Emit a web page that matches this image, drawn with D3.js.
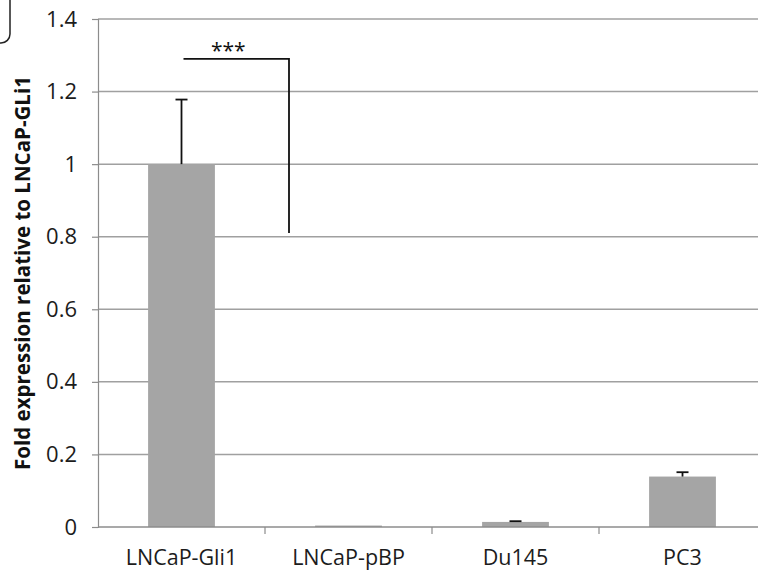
<!DOCTYPE html>
<html><head><meta charset="utf-8">
<script src="https://cdn.jsdelivr.net/npm/d3@7"></script>
<style>body{margin:0;background:#fff}svg{display:block}</style>
</head><body>
<svg id="c" width="758" height="571"></svg>
<script>
const categories = ["LNCaP-Gli1","LNCaP-pBP","Du145","PC3"];
const values = [1.0, 0.004, 0.014, 0.139];
const errors = [0.178, 0, 0.002, 0.012];
const yTicks = [0,0.2,0.4,0.6,0.8,1,1.2,1.4];
const sigLabel = "***";
const bracket = {top:1.29, bottom:0.81};
const yTitle = "Fold expression relative to LNCaP-GLi1";

const svg = d3.select("#c");
const x0 = 98, x1 = 766, yTop = 19, yBot = 527;
const x = d3.scaleBand().domain(categories).range([x0,x1]).paddingInner(0.6).paddingOuter(0.3);
const xb = d3.scaleBand().domain(categories).range([x0,x1]);
const y = d3.scaleLinear().domain([0,1.4]).range([yBot,yTop]);
const font = "'Open Sans', 'Liberation Sans', sans-serif";
const textCol = "#1c1c1c";

// gridlines
svg.append("g").selectAll("line").data(yTicks.filter(d=>d>0)).join("line")
  .attr("x1",x0).attr("x2",758).attr("y1",d=>y(d)).attr("y2",d=>y(d))
  .attr("stroke","#a0a0a0").attr("stroke-width",1.5);

// y axis
const ya = svg.append("g").attr("transform",`translate(${x0},0)`)
  .call(d3.axisLeft(y).tickValues(yTicks).tickSize(6).tickPadding(15).tickFormat(d=>String(d)));
ya.select(".domain").attr("stroke","#8c8c8c").attr("stroke-width",1.2);
ya.selectAll(".tick line").attr("stroke","#8c8c8c").attr("stroke-width",1.2);
ya.selectAll("text").attr("font-family",font).attr("font-size",22).attr("fill",textCol);

// bars
svg.append("g").selectAll("rect").data(categories).join("rect")
  .attr("x",d=>x(d)).attr("width",x.bandwidth())
  .attr("y",(d,i)=>y(values[i])).attr("height",(d,i)=>yBot-y(values[i]))
  .attr("fill","#a5a5a5");

// x axis
const xa = svg.append("g").attr("transform",`translate(0,${yBot})`);
xa.append("line").attr("x1",x0).attr("x2",758).attr("y1",0).attr("y2",0)
  .attr("stroke","#8c8c8c").attr("stroke-width",1.5);
xa.selectAll("line.t").data(categories.slice(1)).join("line").attr("class","t")
  .attr("x1",d=>xb(d)).attr("x2",d=>xb(d)).attr("y1",0).attr("y2",7)
  .attr("stroke","#8c8c8c").attr("stroke-width",1.2);
xa.selectAll("text").data(categories).join("text")
  .attr("x",d=>xb(d)+xb.bandwidth()/2).attr("y",38)
  .attr("text-anchor","middle").attr("font-family",font).attr("font-size",21.5).attr("fill",textCol)
  .text(d=>d);

// error bars
const eb = svg.append("g").attr("stroke","#111").attr("stroke-width",1.8);
categories.forEach((c,i)=>{
  if(errors[i]<=0) return;
  const cx = x(c)+x.bandwidth()/2;
  eb.append("line").attr("x1",cx).attr("x2",cx).attr("y1",y(values[i])).attr("y2",y(values[i]+errors[i]));
  eb.append("line").attr("x1",cx-6).attr("x2",cx+6).attr("y1",y(values[i]+errors[i])).attr("y2",y(values[i]+errors[i]));
});

// significance bracket
const bxL = x(categories[0])+x.bandwidth()/2+2;
const bxR = 289;
svg.append("path")
  .attr("d",`M${bxL},${y(bracket.top)}H${bxR}V${y(bracket.bottom)}`)
  .attr("fill","none").attr("stroke","#111").attr("stroke-width",1.8);
svg.append("text").attr("x",(bxL+bxR)/2-8).attr("y",y(bracket.top)-1)
  .attr("text-anchor","middle").attr("font-family",font).attr("font-size",21).attr("fill","#111")
  .text(sigLabel);

// y title
svg.append("text").attr("transform",`translate(30,273) rotate(-90)`)
  .attr("text-anchor","middle").attr("font-family",font).attr("font-weight","bold")
  .attr("font-size",20.5).attr("fill","#111").text(yTitle);

// rounded box corner at top-left
svg.append("rect").attr("x",-40).attr("y",-20).attr("width",50).attr("height",63).attr("rx",9)
  .attr("fill","none").attr("stroke","#222").attr("stroke-width",1.5);
</script>
</body></html>
